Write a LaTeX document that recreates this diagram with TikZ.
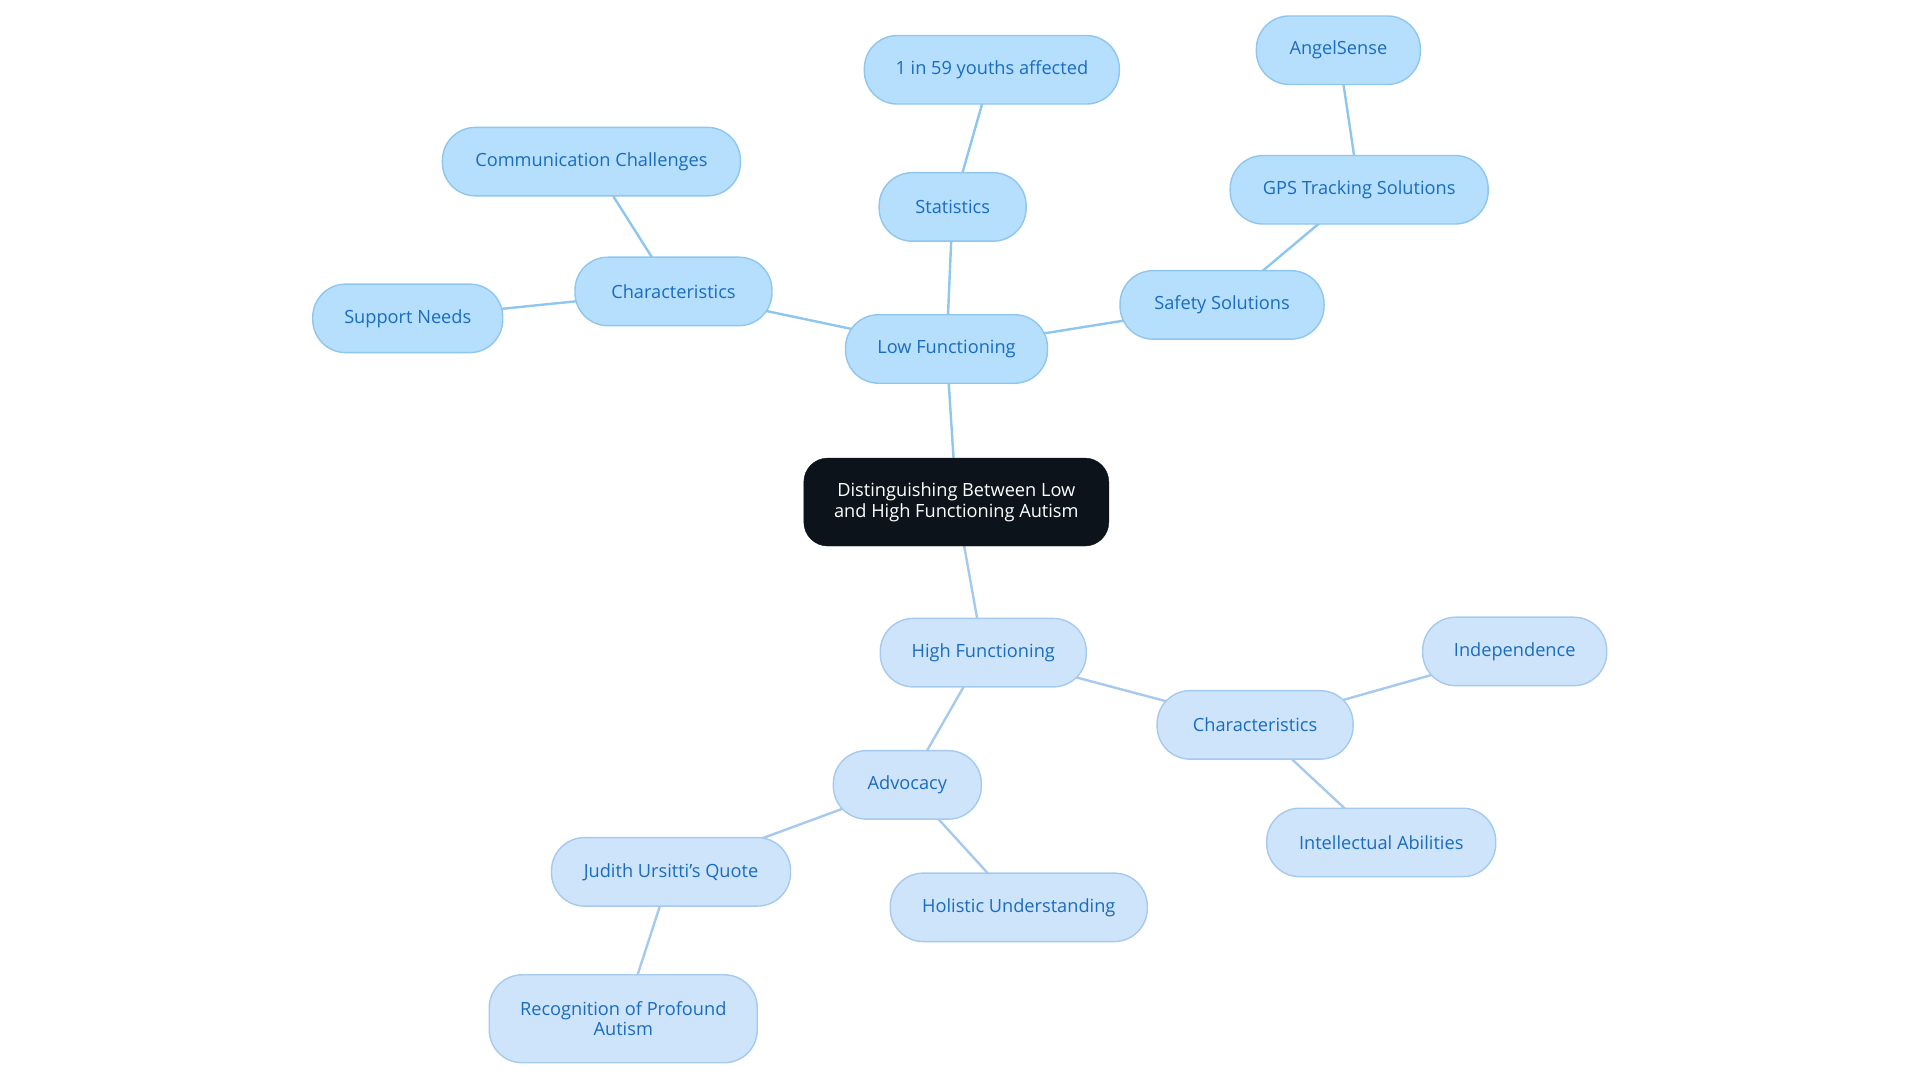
\documentclass[tikz,border=0pt]{standalone}
\usepackage{fontspec}
\setmainfont{Open Sans}
\usetikzlibrary{backgrounds}
\definecolor{rootfill}{HTML}{0D131A}
\definecolor{lowfill}{HTML}{B5DFFC}
\definecolor{lowline}{HTML}{8EC6EE}
\definecolor{highfill}{HTML}{CDE4FB}
\definecolor{highline}{HTML}{A6C9EE}
\definecolor{nodetext}{HTML}{1A6CBE}
\begin{document}
\begin{tikzpicture}[x=1.2245pt, y=-1.2245pt]
				\tikzstyle{every node}=[inner sep=2pt, align=center, font=\fontsize{18.2}{20.5}\selectfont]
				\tikzstyle{root}=[fill=rootfill, draw=rootfill, text=white, rounded corners=24pt, minimum height=88pt]
				\tikzstyle{low}=[fill=lowfill, draw=lowline, line width=1.4pt, text=nodetext, rounded corners=33pt, minimum height=68.5pt]
				\tikzstyle{high}=[fill=highfill, draw=highline, line width=1.4pt, text=nodetext, rounded corners=33pt, minimum height=68.5pt]
				\tikzstyle{lowedge}=[draw=lowline, line width=2.4pt]
				\tikzstyle{highedge}=[draw=highline, line width=2.4pt]
				\useasboundingbox (0, 0) rectangle (1568, 884.4);
				% nodes
				\node[root, minimum width=305pt] (root) at (781, 410) {Distinguishing Between Low\\and High Functioning Autism};
				\node[low, minimum width=202pt] (lowf) at (773, 285) {Low Functioning};
				\node[low, minimum width=147pt] (stats) at (778, 169) {Statistics};
				\node[low, minimum width=255pt] (youths) at (810, 57) {1 in 59 youths affected};
				\node[low, minimum width=197pt] (lowchar) at (550, 238) {Characteristics};
				\node[low, minimum width=298pt] (comm) at (483, 132) {Communication Challenges};
				\node[low, minimum width=190pt] (support) at (333, 260) {Support Needs};
				\node[low, minimum width=204pt] (safety) at (998, 249) {Safety Solutions};
				\node[low, minimum width=258pt] (gps) at (1110, 155) {GPS Tracking Solutions};
				\node[low, minimum width=164pt] (angel) at (1093, 41) {AngelSense};
				\node[high, minimum width=206pt] (highf) at (803, 533) {High Functioning};
				\node[high, minimum width=196pt] (highchar) at (1025, 592) {Characteristics};
				\node[high, minimum width=184pt] (indep) at (1237, 532) {Independence};
				\node[high, minimum width=229pt] (intel) at (1128, 688) {Intellectual Abilities};
				\node[high, minimum width=148pt] (advo) at (741, 641) {Advocacy};
				\node[high, minimum width=239pt] (judith) at (548, 712) {Judith Ursitti's Quote};
				\node[high, minimum width=257pt] (holistic) at (832, 741) {Holistic Understanding};
				\node[high, minimum width=268pt, minimum height=88pt] (recog) at (509, 832) {Recognition of Profound\\Autism};
				% connectors, behind the nodes
				\begin{scope}[on background layer]
				\draw[lowedge] (root.center) -- (lowf.center);
				\draw[lowedge] (lowf.center) -- (stats.center);
				\draw[lowedge] (stats.center) -- (youths.center);
				\draw[lowedge] (lowf.center) -- (lowchar.center);
				\draw[lowedge] (lowchar.center) -- (comm.center);
				\draw[lowedge] (lowchar.center) -- (support.center);
				\draw[lowedge] (lowf.center) -- (safety.center);
				\draw[lowedge] (safety.center) -- (gps.center);
				\draw[lowedge] (gps.center) -- (angel.center);
				\draw[highedge] (root.center) -- (highf.center);
				\draw[highedge] (highf.center) -- (highchar.center);
				\draw[highedge] (highchar.center) -- (indep.center);
				\draw[highedge] (highchar.center) -- (intel.center);
				\draw[highedge] (highf.center) -- (advo.center);
				\draw[highedge] (advo.center) -- (judith.center);
				\draw[highedge] (advo.center) -- (holistic.center);
				\draw[highedge] (judith.center) -- (recog.center);
				\end{scope}
		\end{tikzpicture}
\end{document}
